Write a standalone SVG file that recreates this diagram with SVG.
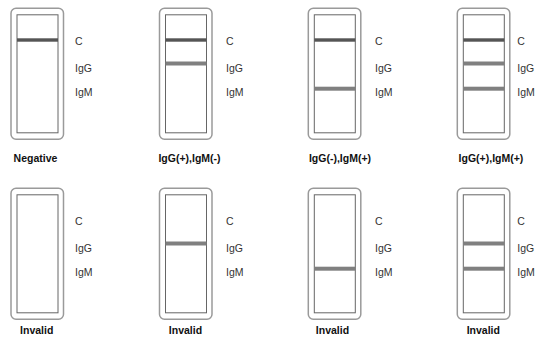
<svg xmlns="http://www.w3.org/2000/svg" width="537" height="344" viewBox="0 0 537 344">
<defs>
<style>
.outer{fill:none;stroke:#9a9a9a;stroke-width:1.5}
.inner{fill:#fff;stroke:#666;stroke-width:1}
.lc{fill:#555}
.lt{fill:#808080}
.lab{font-family:"Liberation Sans","DejaVu Sans",sans-serif;font-size:10.5px;fill:#333}
.cap{font-family:"Liberation Sans","DejaVu Sans",sans-serif;font-size:10.5px;font-weight:bold;fill:#111;text-anchor:middle}
</style>
<g id="strip">
<rect class="outer" x="0" y="0" width="52.5" height="131" rx="5"/>
<rect class="inner" x="6" y="6.5" width="41" height="118"/>
</g>
<g id="labels">
<text class="lab" x="0" y="37">C</text>
<text class="lab" x="0" y="63.5">IgG</text>
<text class="lab" x="0" y="87.5">IgM</text>
</g>
</defs>
<g id="negative" transform="translate(11,8.3)">
<use href="#strip"/>
<rect class="lc" x="6" y="30" width="41" height="3.4"/>
<use href="#labels" x="64"/>
<text class="cap" x="24.5" y="154.2">Negative</text>
</g>
<g id="igg-pos" transform="translate(159.5,8.3)">
<use href="#strip"/>
<rect class="lc" x="6" y="30" width="41" height="3.4"/>
<rect class="lt" x="6" y="53.2" width="41" height="4"/>
<use href="#labels" x="66.5"/>
<text class="cap" x="30" y="154.2">IgG(+),IgM(-)</text>
</g>
<g id="igm-pos" transform="translate(308.3,8.3)">
<use href="#strip"/>
<rect class="lc" x="6" y="30" width="41" height="3.4"/>
<rect class="lt" x="6" y="78.4" width="41" height="4"/>
<use href="#labels" x="66.7"/>
<text class="cap" x="31.7" y="154.2">IgG(-),IgM(+)</text>
</g>
<g id="both-pos" transform="translate(457.3,8.3)">
<use href="#strip"/>
<rect class="lc" x="6" y="30" width="41" height="3.4"/>
<rect class="lt" x="6" y="53.2" width="41" height="4"/>
<rect class="lt" x="6" y="78.4" width="41" height="4"/>
<use href="#labels" x="60"/>
<text class="cap" x="33.7" y="154.2">IgG(+),IgM(+)</text>
</g>
<g id="invalid-1" transform="translate(11,188.3)">
<use href="#strip"/>
<use href="#labels" x="64"/>
<text class="cap" x="25.7" y="146">Invalid</text>
</g>
<g id="invalid-2" transform="translate(159.5,188.3)">
<use href="#strip"/>
<rect class="lt" x="6" y="53.2" width="41" height="4"/>
<use href="#labels" x="66.5"/>
<text class="cap" x="26" y="146">Invalid</text>
</g>
<g id="invalid-3" transform="translate(308.3,188.3)">
<use href="#strip"/>
<rect class="lt" x="6" y="78.4" width="41" height="4"/>
<use href="#labels" x="66.7"/>
<text class="cap" x="24.2" y="146">Invalid</text>
</g>
<g id="invalid-4" transform="translate(457.3,188.3)">
<use href="#strip"/>
<rect class="lt" x="6" y="53.2" width="41" height="4"/>
<rect class="lt" x="6" y="78.4" width="41" height="4"/>
<use href="#labels" x="60"/>
<text class="cap" x="26" y="146">Invalid</text>
</g>
<g id="connectors"></g>
</svg>
